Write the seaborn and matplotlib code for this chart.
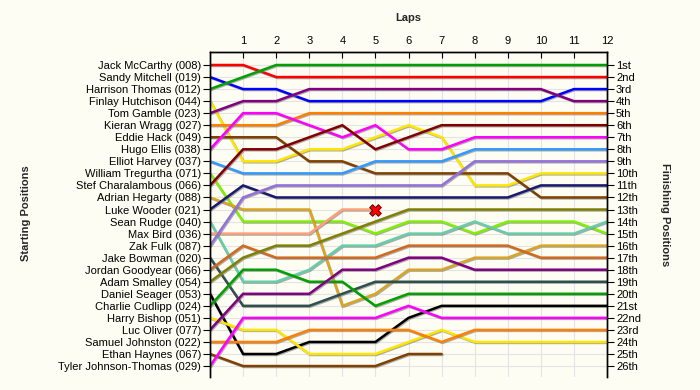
import matplotlib
matplotlib.use("Agg")
import matplotlib.pyplot as plt
import matplotlib.patheffects as pe
import seaborn as sns
import pandas as pd

drivers = [
    "Jack McCarthy (008)", "Sandy Mitchell (019)", "Harrison Thomas (012)",
    "Finlay Hutchison (044)", "Tom Gamble (023)", "Kieran Wragg (027)",
    "Eddie Hack (049)", "Hugo Ellis (038)", "Elliot Harvey (037)",
    "William Tregurtha (071)", "Stef Charalambous (066)", "Adrian Hegarty (088)",
    "Luke Wooder (021)", "Sean Rudge (040)", "Max Bird (036)", "Zak Fulk (087)",
    "Jake Bowman (020)", "Jordan Goodyear (066)", "Adam Smalley (054)",
    "Daniel Seager (053)", "Charlie Cudlipp (024)", "Harry Bishop (051)",
    "Luc Oliver (077)", "Samuel Johnston (022)", "Ethan Haynes (067)",
    "Tyler Johnson-Thomas (029)",
]

colors = [
    "#FF0000", "#0000FF", "#00A000", "#FFE600", "#800080", "#FF8000",
    "#804000", "#FF00FF", "#3399FF", "#80F000", "#800000", "#DAA520",
    "#191970", "#66CDAA", "#FFA07A", "#9370DB", "#2F4F4F", "#D2691E",
    "#808000", "#000000", "#00A000", "#FFE600", "#800080", "#FF8000",
    "#804000", "#FF00FF",
]

# position at lap 0 (start) .. lap N
positions = [
    [1, 1, 2, 2, 2, 2, 2, 2, 2, 2, 2, 2, 2],
    [2, 3, 3, 4, 4, 4, 4, 4, 4, 4, 4, 3, 3],
    [3, 2, 1, 1, 1, 1, 1, 1, 1, 1, 1, 1, 1],
    [4, 9, 9, 8, 8, 7, 6, 7, 11, 11, 10, 10, 10],
    [5, 4, 4, 3, 3, 3, 3, 3, 3, 3, 3, 4, 4],
    [6, 6, 6, 5, 5, 5, 5, 5, 5, 5, 5, 5, 5],
    [7, 7, 7, 9, 9, 10, 10, 10, 10, 10, 12, 12, 12],
    [8, 5, 5, 6, 7, 6, 8, 8, 7, 7, 7, 7, 7],
    [9, 10, 10, 10, 10, 9, 9, 9, 8, 8, 8, 8, 8],
    [10, 14, 14, 14, 14, 15, 14, 14, 15, 14, 14, 14, 15],
    [11, 8, 8, 7, 6, 8, 7, 6, 6, 6, 6, 6, 6],
    [12, 13, 13, 13, 21, 20, 18, 18, 17, 17, 16, 16, 16],
    [13, 11, 12, 12, 12, 12, 12, 12, 12, 12, 11, 11, 11],
    [14, 19, 19, 18, 16, 16, 15, 15, 14, 15, 15, 15, 14],
    [15, 15, 15, 15, 13, 13],
    [16, 12, 11, 11, 11, 11, 11, 11, 9, 9, 9, 9, 9],
    [17, 21, 21, 21, 20, 19, 19, 19, 19, 19, 19, 19, 19],
    [18, 16, 17, 17, 17, 17, 16, 16, 16, 16, 17, 17, 17],
    [19, 17, 16, 16, 15, 14, 13, 13, 13, 13, 13, 13, 13],
    [20, 25, 25, 24, 24, 24, 22, 21, 21, 21, 21, 21, 21],
    [21, 18, 18, 19, 19, 21, 20, 20, 20, 20, 20, 20, 20],
    [22, 23, 23, 25, 25, 25, 24, 23, 24, 24, 24, 24, 24],
    [23, 20, 20, 20, 18, 18, 17, 17, 18, 18, 18, 18, 18],
    [24, 24, 24, 23, 23, 23, 23, 24, 23, 23, 23, 23, 23],
    [25, 26, 26, 26, 26, 26, 25, 25],
    [26, 22, 22, 22, 22, 22, 21, 22, 22, 22, 22, 22, 22],
]

lap_labels = [str(i) for i in range(1, 13)]
finish_labels = [
    "1st", "2nd", "3rd", "4th", "5th", "6th", "7th", "8th", "9th", "10th",
    "11th", "12th", "13th", "14th", "15th", "16th", "17th", "18th", "19th",
    "20th", "21st", "22nd", "23rd", "24th", "25th", "26th",
]
retired = ["Max Bird (036)"]

rows = []
for d, pos in zip(drivers, positions):
    for lap, p in enumerate(pos):
        rows.append({"driver": d, "lap": lap, "pos": p})
df = pd.DataFrame(rows)
ret_df = df[df["driver"].isin(retired)].groupby("driver").tail(1)

bg = "#FDFDF3"
sns.set_theme(style="white")
plt.rcParams["font.family"] = ["Liberation Sans", "DejaVu Sans"]
plt.rcParams["font.size"] = 8

fig = plt.figure(figsize=(7, 3.9), dpi=100, facecolor=bg)
ax = fig.add_axes([210 / 700, 1 - 377 / 390, 397 / 700, 325 / 390])
ax.set_facecolor(bg)

# grid
for y in range(1, 27):
    ax.axhline(y, color="#E4E4E4", lw=0.8, zorder=0)
for x in range(1, 12):
    ax.axvline(x, color="#E4E4E4", lw=0.8, zorder=0)

sns.lineplot(data=df, x="lap", y="pos", hue="driver", hue_order=drivers,
             palette=dict(zip(drivers, colors)), estimator=None, sort=False,
             legend=False, linewidth=1.8, ax=ax, zorder=2)
for ln in ax.get_lines():
    if ln.get_linewidth() > 1.5:
        ln.set_path_effects([pe.SimpleLineShadow(offset=(0.7, -0.7),
                                                 shadow_color="#777777", alpha=0.6),
                             pe.Normal()])
        ln.set_solid_joinstyle("miter")

sns.scatterplot(data=ret_df, x="lap", y="pos", marker="X", s=70,
                color="#FF0000", edgecolor="#600000", linewidth=0.7,
                ax=ax, zorder=5, legend=False)

ax.set_xlim(0, 12)
ax.set_ylim(26.91, -0.08)
ax.xaxis.tick_top()
ax.set_xticks(range(1, 13))
ax.set_xticklabels(lap_labels, fontsize=8)
ax.xaxis.set_label_position("top")
ax.set_xlabel("Laps", fontweight="bold", fontsize=8, labelpad=11)
ax.tick_params(axis="x", direction="in", length=4, width=0.8, pad=4,
               colors="black", top=True, bottom=False)
ax.set_yticks(range(1, 27))
ax.set_yticklabels(drivers, fontsize=8)
ax.set_ylabel("")
ax.tick_params(axis="y", direction="out", length=5, width=0.8, pad=1.5,
               left=True, colors="black")

ax2 = ax.twinx()
ax2.set_ylim(ax.get_ylim())
ax2.set_yticks(range(1, 27))
ax2.set_yticklabels(finish_labels, fontsize=8)
ax2.tick_params(axis="y", direction="out", length=5, width=0.8, pad=1.5,
                right=True, colors="black")

for a in (ax, ax2):
    a.spines["bottom"].set_visible(False)
    for s in ("top", "left", "right"):
        a.spines[s].set_color("black")
        a.spines[s].set_linewidth(1.0)

fig.text(26 / 700, 1 - 213 / 390, "Starting Positions", rotation=90,
         ha="center", va="center", fontweight="bold", fontsize=8)
fig.text(665 / 700, 1 - 215 / 390, "Finishing Positions", rotation=270,
         ha="center", va="center", fontweight="bold", fontsize=8)

fig.savefig("out.png", dpi=100, facecolor=bg)
